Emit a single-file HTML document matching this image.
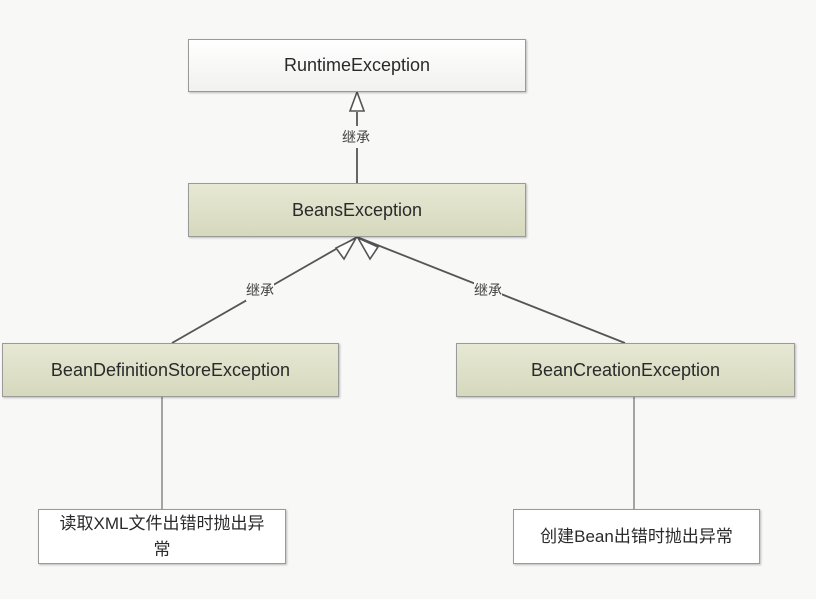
<!DOCTYPE html>
<html><head><meta charset="utf-8"><style>
html,body{margin:0;padding:0;background:#f8f8f7;}
body{width:816px;height:599px;overflow:hidden;position:relative;font-family:"Liberation Sans","Noto Sans CJK SC",sans-serif;}
.b{position:absolute;box-sizing:border-box;border:1px solid #9a9a9a;display:flex;align-items:center;justify-content:center;text-align:center;font-size:18px;color:#2a2a2a;box-shadow:1px 1px 2px rgba(0,0,0,.25);}
.w{background:linear-gradient(#fff,#f1f1f0);}
.g{background:linear-gradient(#e6e8d4,#d6d9bd);}
.n{background:#fff;font-size:17px;line-height:26px;}
.l{position:absolute;font-size:14px;color:#444;background:#f8f8f7;padding:1px 0;}
</style></head><body>
<svg width="816" height="599" style="position:absolute;left:0;top:0">
<g stroke="#555" stroke-width="1.8" fill="none">
<line x1="357" y1="112" x2="357" y2="183"/>
<line x1="357" y1="237" x2="172" y2="343"/>
<line x1="357" y1="237" x2="625" y2="343"/>
</g>
<g stroke="#777" stroke-width="1.3">
<line x1="162" y1="397" x2="162" y2="509"/>
<line x1="634" y1="397" x2="634" y2="509"/>
</g>
<g stroke="#555" stroke-width="1.6" fill="#fff">
<polygon points="357,92 350,111 364,111"/>
<polygon points="356,238 336,248 344,259"/>
<polygon points="358,238 370,259 378,247"/>
</g>
</svg>
<div class="b w" style="left:188px;top:39px;width:338px;height:53px;">RuntimeException</div>
<div class="b g" style="left:188px;top:183px;width:338px;height:54px;">BeansException</div>
<div class="b g" style="left:2px;top:343px;width:337px;height:54px;">BeanDefinitionStoreException</div>
<div class="b g" style="left:456px;top:343px;width:339px;height:54px;">BeanCreationException</div>
<div class="b n" style="left:38px;top:509px;width:248px;height:55px;">读取XML文件出错时抛出异<br>常</div>
<div class="b n" style="left:513px;top:509px;width:247px;height:55px;">创建Bean出错时抛出异常</div>
<div class="l" style="left:342px;top:126px;">继承</div>
<div class="l" style="left:246px;top:279px;">继承</div>
<div class="l" style="left:474px;top:279px;">继承</div>
</body></html>
